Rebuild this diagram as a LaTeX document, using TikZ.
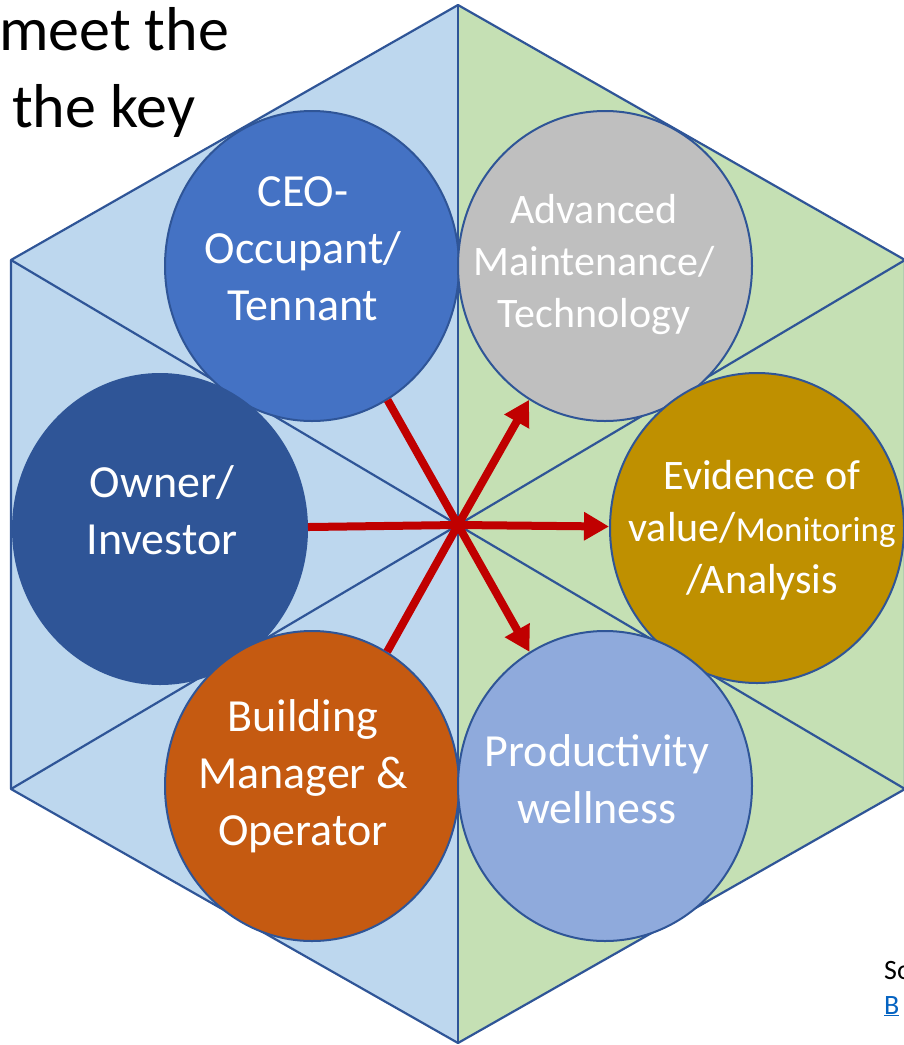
\documentclass[tikz,border=0pt]{standalone}
\usepackage{fontspec}
\setmainfont{Carlito}
\usetikzlibrary{shapes.geometric,arrows.meta}
\definecolor{hexblue}{HTML}{2F5597}
\definecolor{leftfill}{HTML}{BDD7EE}
\definecolor{rightfill}{HTML}{C5E0B4}
\definecolor{spokered}{HTML}{C00000}
\definecolor{ceoblue}{HTML}{4472C4}
\definecolor{advgray}{HTML}{BFBFBF}
\definecolor{ownerblue}{HTML}{2F5597}
\definecolor{evidgold}{HTML}{BF9000}
\definecolor{buildorange}{HTML}{C55A11}
\definecolor{prodblue}{HTML}{8FAADC}
\definecolor{linkblue}{HTML}{0563C1}
\begin{document}
\begin{tikzpicture}[x=1pt,y=-1pt,hexedge/.style={draw=hexblue,line width=2.2pt,line join=round},stake/.style={shape=ellipse,draw=hexblue,line width=2pt,minimum width=294pt,minimum height=310pt,inner sep=0pt},stxt/.style={text=white,align=center,inner sep=0pt,font=\fontsize{46}{57}\selectfont},stxts/.style={stxt,font=\fontsize{42}{52}\selectfont},spoke/.style={draw=spokered,line width=8pt},spokea/.style={spoke,-{Triangle[length=25pt,width=27pt]}}]
\useasboundingbox (0,0) rectangle (904,1045);

% hexagon corners
\coordinate (hub) at (458,525);
\coordinate (top) at (458,5);
\coordinate (ur) at (905,260);
\coordinate (lr) at (905,789);
\coordinate (bot) at (458,1043);
\coordinate (ll) at (11,789);
\coordinate (ul) at (11,260);

\fill[leftfill] (top) -- (ul) -- (ll) -- (bot) -- cycle;
\fill[rightfill] (top) -- (ur) -- (lr) -- (bot) -- cycle;
\draw[hexedge] (top) -- (ur) -- (lr) -- (bot) -- (ll) -- (ul) -- cycle;
\foreach \c in {top,ur,lr,bot,ll,ul}
  \draw[hexedge] (hub) -- (\c);

% stakeholders
\node[stake,fill=ceoblue] (ceo) at (312,266) {};
\node[stake,fill=advgray] (adv) at (605,266) {};
\node[stake,fill=ownerblue] (owner) at (160,529) {};
\node[stake,fill=evidgold] (evid) at (757,528) {};
\node[stake,fill=buildorange] (build) at (312,786) {};
\node[stake,fill=prodblue] (prod) at (605,786) {};

\node[stxt] (ceo-t) at (303,249) {CEO-\\Occupant/\\Tennant};
\node[stxts] (adv-t) at (594,265) {Advanced\\Maintenance/\\Technology};
\node[stxt] (owner-t) at (162,510) {Owner/\\Investor};
\node[stxt,font=\fontsize{42}{52}\selectfont] (evid-t) at (762,530) {Evidence of\\value/{\fontsize{35}{52}\selectfont Monitoring}\\/Analysis};
\node[stxt] (build-t) at (303,776) {Building\\Manager \&\\Operator};
\node[stxt] (prod-t) at (597,779) {Productivity\\wellness};

% spokes
\draw[spoke] (ceo) -- (hub);
\draw[spoke] (owner) -- (hub);
\draw[spoke] (build) -- (hub);
\draw[spokea] (hub) -- (adv);
\draw[spokea] (hub) -- (evid);
\draw[spokea] (hub) -- (prod);

% cut-off slide text
\node[anchor=base west,inner sep=0pt,font=\fontsize{62}{75}\selectfont] (head1) at (-1,50) {meet the};
\node[anchor=base west,inner sep=0pt,font=\fontsize{62}{75}\selectfont] (head2) at (12,127) {the key};
\node[anchor=base west,inner sep=0pt,font=\fontsize{28}{34}\selectfont] (src1) at (884,979) {So};
\node[anchor=base west,inner sep=0pt,text=linkblue,font=\fontsize{28}{34}\selectfont] (src2) at (884,1014) {\underline{B}};
\end{tikzpicture}
\end{document}
